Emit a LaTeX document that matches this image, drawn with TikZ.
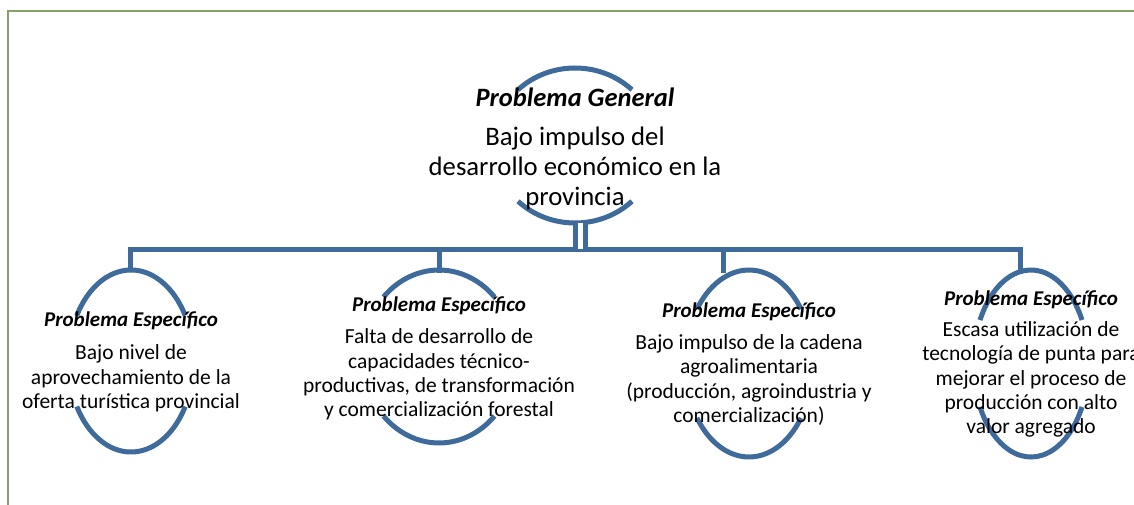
\documentclass[tikz,border=0pt]{standalone}
\usepackage{fontspec}
\setmainfont{Carlito}
\definecolor{arcblue}{RGB}{63,106,156}
\definecolor{framegreen}{RGB}{138,160,106}
\begin{document}
\begin{tikzpicture}[x=1pt,y=-1pt,
  arcline/.style={draw=arcblue,line width=5pt},
  conn/.style={draw=arcblue,line width=5pt,line join=miter},
  head/.style={inner sep=0pt,font=\fontsize{21}{24}\selectfont\bfseries\itshape},
  headg/.style={inner sep=0pt,font=\fontsize{26.5}{30}\selectfont\bfseries\itshape},
  body/.style={inner sep=0pt,align=center,font=\fontsize{21.5}{24.3}\selectfont},
  bodyg/.style={inner sep=0pt,align=center,font=\fontsize{26.7}{30}\selectfont}]
\useasboundingbox (0,0) rectangle (1134,505);
\draw[framegreen,line width=2pt] (1140,11) -- (8,11) -- (8,510);
% general ellipse arcs
\draw[arcline] (575,145.5) ++(226:82 and 77.5) arc[start angle=226,end angle=314,x radius=82,y radius=77.5];
\draw[arcline] (575,145.5) ++(46:82 and 77.5) arc[start angle=46,end angle=134,x radius=82,y radius=77.5];
% children arcs
\draw[arcline] (131,361) ++(210:62.6 and 91) arc[start angle=210,end angle=330,x radius=62.6,y radius=91];
\draw[arcline] (131,361) ++(30:62.6 and 91) arc[start angle=30,end angle=150,x radius=62.6,y radius=91];
\draw[arcline] (439,356.5) ++(223.5:76.5 and 86.5) arc[start angle=223.5,end angle=316.5,x radius=76.5,y radius=86.5];
\draw[arcline] (439,356.5) ++(43.5:76.5 and 86.5) arc[start angle=43.5,end angle=136.5,x radius=76.5,y radius=86.5];
\draw[arcline] (749,363.5) ++(215.6:64 and 93.5) arc[start angle=215.6,end angle=324.4,x radius=64,y radius=93.5];
\draw[arcline] (749,363.5) ++(35.6:64 and 93.5) arc[start angle=35.6,end angle=144.4,x radius=64,y radius=93.5];
\draw[arcline] (1031,363.5) ++(207.7:57.6 and 93.5) arc[start angle=207.7,end angle=332.3,x radius=57.6,y radius=93.5];
\draw[arcline] (1031,363.5) ++(27.7:57.6 and 93.5) arc[start angle=27.7,end angle=152.3,x radius=57.6,y radius=93.5];
% connector coordinates
\coordinate (gbot) at (580.5,223);
\coordinate (gbar) at (580.5,249);
\coordinate (c1) at (130,272);
\coordinate (c2) at (439,273);
\coordinate (c3) at (723,273);
\coordinate (c4) at (1020,273);
\coordinate (b1) at (130,249);
\coordinate (b2) at (439,249);
\coordinate (b3) at (723,249);
\coordinate (b4) at (1020,249);
\draw[conn] (c1) -- (b1) -- (b4) -- (c4);
\draw[conn] (b2) -- (c2);
\draw[conn] (b3) -- (c3);
\draw[draw=arcblue,line width=5pt,double=white,double distance=5pt] (gbot) -- (gbar);
% texts
\node[headg] (gh) at (575,97) {Problema General};
\node[bodyg] (gb) at (575,168) {Bajo impulso del\\desarrollo económico en la\\provincia};
\node[head] (h1) at (131,321) {Problema Específico};
\node[body] (t1) at (131,378.5) {Bajo nivel de\\aprovechamiento de la\\oferta turística provincial};
\node[head] (h2) at (439,306) {Problema Específico};
\node[body] (t2) at (439,374.5) {Falta de desarrollo de\\capacidades técnico-\\productivas, de transformación\\y comercialización forestal};
\node[head] (h3) at (749,312) {Problema Específico};
\node[body] (t3) at (749,380) {Bajo impulso de la cadena\\agroalimentaria\\(producción, agroindustria y\\comercialización)};
\node[head] (h4) at (1031,300) {Problema Específico};
\node[body] (t4) at (1031,379.5) {Escasa utilización de\\tecnología de punta para\\mejorar el proceso de\\producción con alto\\valor agregado};
\end{tikzpicture}
\end{document}
